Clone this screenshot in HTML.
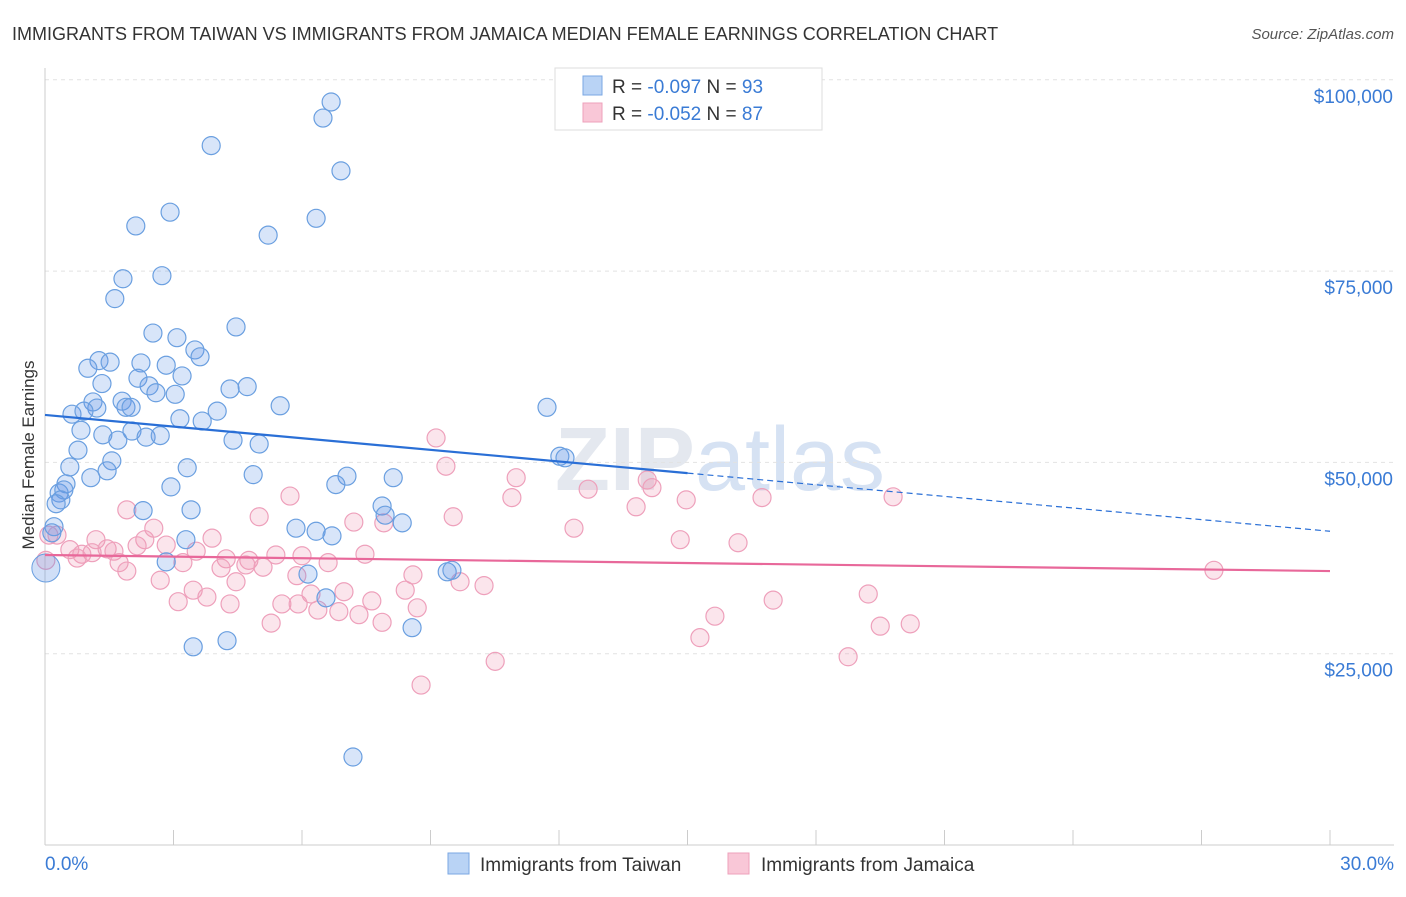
<!DOCTYPE html>
<html><head><meta charset="utf-8"><style>
body{margin:0;background:#fff;font-family:"Liberation Sans",sans-serif}
svg text{font-family:"Liberation Sans",sans-serif}
</style></head><body>
<svg id="c" width="1406" height="892">
<text x="12" y="40" font-size="18" fill="#333">IMMIGRANTS FROM TAIWAN VS IMMIGRANTS FROM JAMAICA MEDIAN FEMALE EARNINGS CORRELATION CHART</text>
<text x="1394" y="39" font-size="15" fill="#555" text-anchor="end" font-style="italic">Source: ZipAtlas.com</text>
<text x="720" y="490" font-size="90" fill="#e4e8ef" text-anchor="middle" font-weight="bold">ZIP<tspan fill="#d6e2f3" font-weight="normal">atlas</tspan></text>
<g id="grid"></g><g id="pts"></g><g id="trend"></g>
<text x="34" y="455" font-size="17" fill="#333" text-anchor="middle" transform="rotate(-90 34 455)">Median Female Earnings</text>
<g>
<rect x="555" y="68" width="267" height="62" fill="#fff" stroke="#ddd"/>
<rect x="583" y="76" width="19" height="19" fill="#b9d3f5" stroke="#7aa7e3"/>
<rect x="583" y="103" width="19" height="19" fill="#f9c7d7" stroke="#eea0bb"/>
<text x="612" y="93" font-size="19" fill="#333">R = <tspan fill="#3a7bd5">-0.097</tspan>   N = <tspan fill="#3a7bd5">93</tspan></text>
<text x="612" y="120" font-size="19" fill="#333">R = <tspan fill="#3a7bd5">-0.052</tspan>   N = <tspan fill="#3a7bd5">87</tspan></text>
</g>
<g>
<rect x="448" y="853" width="21" height="21" fill="#b9d3f5" stroke="#7aa7e3"/>
<text x="480" y="871" font-size="19" fill="#333">Immigrants from Taiwan</text>
<rect x="728" y="853" width="21" height="21" fill="#f9c7d7" stroke="#eea0bb"/>
<text x="761" y="871" font-size="19" fill="#333">Immigrants from Jamaica</text>
</g>
</svg>
<script>
const yTicks=[25000,50000,75000,100000];
const yTickLabels=["$25,000","$50,000","$75,000","$100,000"];
const xTicks=[0,3,6,9,12,15,18,21,24,27,30];
const taiwanX=[6.68,6.49,3.88,6.91,2.92,6.33,2.12,5.21,1.82,2.73,1.63,4.46,2.52,3.08,3.50,3.62,1.26,1.52,2.24,2.83,1.00,3.20,2.17,1.33,2.43,4.32,4.72,2.59,3.04,1.12,1.80,5.49,1.89,2.01,1.21,0.63,0.91,4.02,11.72,3.15,3.67,0.84,2.03,1.35,1.70,2.36,2.69,4.39,5.00,0.77,12.02,12.14,1.56,0.58,1.45,3.32,4.86,7.05,8.13,1.07,0.49,2.94,0.33,0.44,6.79,0.37,0.26,7.87,3.41,2.29,7.94,8.34,5.86,6.33,6.70,0.21,3.29,0.16,2.83,6.14,9.39,9.50,6.56,8.57,4.25,3.46,7.19];
const taiwanY=[97100,95000,91400,88100,82700,81900,80900,79700,74000,74400,71400,67700,66900,66300,64700,63800,63300,63100,63000,62700,62300,61300,61000,60300,60000,59600,59900,59100,58900,57900,58000,57400,57200,57200,57100,56300,56700,56700,57200,55700,55400,54200,54100,53600,52900,53300,53500,52900,52400,51600,50800,50600,50200,49400,48900,49300,48400,48200,48000,48000,47200,46800,46000,46400,47100,45100,44600,44300,43800,43700,43100,42100,41400,41000,40400,41600,39900,40800,37000,35400,35700,35900,32300,28400,26700,25900,11500];
const jamaicaX=[9.13,9.36,11.00,14.06,12.68,14.17,10.90,14.97,16.74,19.80,5.72,13.80,1.91,5.00,9.53,7.21,7.91,12.35,2.54,3.90,14.83,16.18,1.19,2.33,0.09,0.28,2.83,2.15,1.45,1.61,3.53,0.58,1.10,0.86,6.00,5.39,4.23,7.47,6.61,4.76,3.22,4.69,5.09,4.11,1.73,0.75,1.91,8.59,5.88,0.02,4.46,2.69,9.69,10.25,3.46,8.41,6.98,6.21,3.78,3.11,4.32,5.53,5.91,7.63,6.37,6.86,8.69,7.33,17.00,19.22,7.87,5.28,15.64,19.50,20.20,15.29,18.75,10.51,8.78,27.29];
const jamaicaY=[53200,49500,48000,47700,46500,46700,45400,45100,45400,45500,45600,44200,43800,42900,42900,42200,42100,41400,41400,40100,39900,39500,39900,39900,40500,40500,39200,39100,38700,38400,38400,38600,38200,38000,37800,37900,37400,38000,36900,37200,36900,36600,36300,36200,36900,37500,35800,35300,35200,37200,34400,34600,34400,33900,33300,33300,33100,32800,32400,31800,31500,31500,31500,31900,30700,30500,31000,30100,32000,32800,29100,29000,29900,28600,28900,27100,24600,24000,20900,35900];
const taiwanTrend=[56200,41000];
const jamaicaTrend=[37900,35800];
const NS="http://www.w3.org/2000/svg";
const X=v=>45+v/30*1285, Y=v=>845-v/25000*191.3;
function mk(t,a,p){const e=document.createElementNS(NS,t);for(const k in a)e.setAttribute(k,a[k]);p.appendChild(e);return e;}
const g=document.getElementById('grid');
yTicks.forEach((t,i)=>{
 const l=mk('line',{x1:45,x2:1394,y1:Y(t),y2:Y(t),stroke:'#e2e2e2','stroke-dasharray':'4,4'},g);
 
 
 const tx=mk('text',{x:1393,y:Y(t)+23,'font-size':19,fill:'#3a7bd5','text-anchor':'end'},g);tx.textContent=yTickLabels[i];
 
 
});
mk('line',{x1:45,x2:1394,y1:845,y2:845,stroke:'#ccc'},g);
mk('line',{x1:45,x2:45,y1:68,y2:845,stroke:'#ccc'},g);
xTicks.forEach(t=>{const l=mk('line',{x1:X(t),x2:X(t),y1:830,y2:845,stroke:'#ccc'},g);
 
 });
let t1=mk('text',{x:45,y:870,'font-size':19,fill:'#3a7bd5'},g);t1.textContent='0.0%';


let t2=mk('text',{x:1394,y:870,'font-size':19,fill:'#3a7bd5','text-anchor':'end'},g);t2.textContent='30.0%';


const p=document.getElementById('pts');
jamaicaX.forEach((x,i)=>{const c=mk('circle',{cx:X(x),cy:Y(jamaicaY[i]),r:9,fill:'rgba(240,150,180,0.25)',stroke:'#eea0bb','stroke-width':1.2},p);
 
 });
taiwanX.forEach((x,i)=>{const c=mk('circle',{cx:X(x),cy:Y(taiwanY[i]),r:9,fill:'rgba(100,150,230,0.25)',stroke:'#6a9fe0','stroke-width':1.2},p);
 
 });
const big=mk('circle',{cx:X(0.02),cy:Y(36200),r:14,fill:'rgba(100,150,230,0.3)',stroke:'#6a9fe0'},p);


const tr=document.getElementById('trend');
const ty=x=>taiwanTrend[0]+(taiwanTrend[1]-taiwanTrend[0])*x/30;
let a=mk('line',{x1:X(0),y1:Y(ty(0)),x2:X(15),y2:Y(ty(15)),stroke:'#2a6fd6','stroke-width':2.2},tr);


let b=mk('line',{x1:X(15),y1:Y(ty(15)),x2:X(30),y2:Y(ty(30)),stroke:'#2a6fd6','stroke-width':1.2,'stroke-dasharray':'6,4'},tr);


let c=mk('line',{x1:X(0),y1:Y(jamaicaTrend[0]),x2:X(30),y2:Y(jamaicaTrend[1]),stroke:'#e8689a','stroke-width':2.2},tr);


</script>
</body></html>
